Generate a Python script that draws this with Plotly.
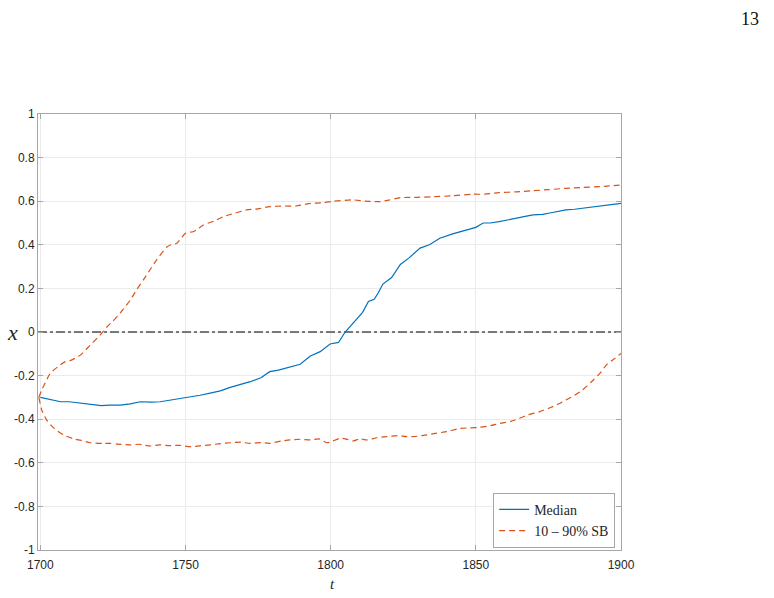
import plotly.graph_objects as go

# ---- data ----
t_med = [1700, 1703, 1707, 1710, 1714, 1717, 1721, 1724, 1727.5, 1731, 1734.4, 1738, 1741.3,
         1745, 1748.2, 1751.6, 1755, 1758.5, 1762, 1765.4, 1769, 1772.3, 1776, 1779, 1782,
         1786, 1789.5, 1793, 1796.4, 1799.8, 1802.7, 1805, 1807, 1809, 1811, 1813, 1815,
         1816.4, 1818, 1821, 1824, 1827, 1830.8, 1834, 1837.6, 1842, 1846.8, 1850, 1852.5,
         1855, 1858, 1861, 1864, 1867, 1869.7, 1873, 1875.5, 1878, 1881, 1884, 1887, 1890,
         1892.7, 1896, 1900]
x_med = [-0.30, -0.31, -0.32, -0.32, -0.327, -0.33, -0.338, -0.335, -0.335, -0.33, -0.32,
         -0.322, -0.32, -0.312, -0.305, -0.30, -0.29, -0.28, -0.27, -0.254, -0.242, -0.228,
         -0.21, -0.182, -0.175, -0.16, -0.148, -0.11, -0.09, -0.055, -0.048, 0.0, 0.03,
         0.064, 0.09, 0.14, 0.15, 0.18, 0.22, 0.25, 0.31, 0.34, 0.385, 0.40, 0.43, 0.45,
         0.468, 0.48, 0.50, 0.50, 0.506, 0.515, 0.523, 0.53, 0.537, 0.54, 0.546, 0.553,
         0.56, 0.563, 0.568, 0.573, 0.578, 0.585, 0.59]

t_up = [1699.5, 1700.5, 1701.6, 1703.4, 1706, 1708.6, 1710.5, 1713.8, 1717.2, 1720.6, 1723,
        1725, 1727.5, 1731, 1733, 1735.5, 1738, 1740, 1743.6, 1745, 1747, 1750, 1752.6, 1754,
        1756, 1760, 1763, 1767, 1771, 1775, 1779, 1784, 1788, 1793, 1797.5, 1801, 1807.7,
        1812, 1817, 1820, 1824, 1830, 1835, 1842, 1849, 1853, 1858, 1864, 1869.7, 1875,
        1881, 1887, 1892.7, 1896, 1900]
x_up = [-0.30, -0.266, -0.235, -0.19, -0.16, -0.136, -0.13, -0.106, -0.06, -0.014, 0.024,
        0.05, 0.087, 0.147, 0.19, 0.239, 0.29, 0.33, 0.39, 0.40, 0.407, 0.453, 0.46, 0.47,
        0.49, 0.51, 0.529, 0.545, 0.56, 0.565, 0.575, 0.578, 0.578, 0.59, 0.593, 0.60, 0.606,
        0.60, 0.598, 0.605, 0.616, 0.618, 0.62, 0.625, 0.632, 0.632, 0.639, 0.643, 0.648,
        0.653, 0.659, 0.663, 0.667, 0.670, 0.674]

t_lo = [1699.5, 1700.5, 1702.2, 1704.6, 1708, 1711.5, 1714, 1717.2, 1721.7, 1724, 1726.4,
        1731, 1734, 1737.8, 1741, 1744.7, 1748, 1751.6, 1755, 1758.5, 1762, 1765.4, 1769,
        1772.3, 1776, 1779, 1783, 1786, 1789.5, 1793, 1796, 1798.6, 1800, 1803, 1805, 1807.7,
        1810, 1812.4, 1816, 1819.3, 1823, 1826.2, 1830, 1833, 1836, 1840, 1844.5, 1848,
        1851.4, 1855, 1858.3, 1862, 1865, 1868, 1872, 1876, 1879, 1882, 1886, 1890.5, 1893,
        1895, 1897.5, 1900]
x_lo = [-0.30, -0.358, -0.404, -0.44, -0.472, -0.49, -0.497, -0.508, -0.511, -0.511, -0.514,
        -0.518, -0.515, -0.523, -0.518, -0.521, -0.52, -0.526, -0.522, -0.518, -0.512,
        -0.508, -0.505, -0.511, -0.507, -0.511, -0.50, -0.495, -0.492, -0.495, -0.49,
        -0.508, -0.505, -0.488, -0.49, -0.50, -0.49, -0.495, -0.485, -0.48, -0.475, -0.48,
        -0.478, -0.472, -0.465, -0.457, -0.442, -0.44, -0.437, -0.43, -0.419, -0.41,
        -0.396, -0.38, -0.365, -0.345, -0.327, -0.305, -0.274, -0.22, -0.185, -0.151,
        -0.125, -0.098]

x_ticks = [1700, 1750, 1800, 1850, 1900]
y_ticks = [-1, -0.8, -0.6, -0.4, -0.2, 0, 0.2, 0.4, 0.6, 0.8, 1]
y_ticklabels = ["-1", "-0.8", "-0.6", "-0.4", "-0.2", "0", "0.2", "0.4", "0.6", "0.8", "1"]

BLUE = "#0072BD"
ORANGE = "#D95319"

fig = go.Figure()
fig.add_trace(go.Scatter(x=[1699.2, 1900], y=[0, 0], mode="lines",
                         line=dict(color="#505050", width=1.5, dash="dashdot"),
                         showlegend=False, hoverinfo="skip"))
fig.add_trace(go.Scatter(x=t_med, y=x_med, mode="lines", name="Median",
                         line=dict(color=BLUE, width=1.2)))
fig.add_trace(go.Scatter(x=t_up, y=x_up, mode="lines", name="10 \u2013 90% SB",
                         legendgroup="sb", line=dict(color=ORANGE, width=1.2, dash="6px,4px"),
                         line_shape="spline", line_smoothing=0.6))
fig.add_trace(go.Scatter(x=t_lo, y=x_lo, mode="lines", name="10 \u2013 90% SB",
                         legendgroup="sb", showlegend=False,
                         line=dict(color=ORANGE, width=1.2, dash="6px,4px"),
                         line_shape="spline", line_smoothing=0.6))

axis_common = dict(showgrid=True, gridcolor="#ebebeb", gridwidth=1,
                   showline=True, linecolor="#a6a6a6", linewidth=1, mirror="ticks",
                   ticks="inside", ticklen=5, tickcolor="#a6a6a6",
                   tickfont=dict(family="Liberation Sans, Arial", size=12, color="#262626"),
                   zeroline=False)

fig.update_layout(
    width=774, height=598,
    margin=dict(l=38, r=153, t=114, b=48),
    paper_bgcolor="white", plot_bgcolor="white",
    xaxis=dict(range=[1699.2, 1900], tickvals=x_ticks, ticklabelstandoff=4, **axis_common),
    yaxis=dict(range=[-1, 1], tickvals=y_ticks, ticktext=y_ticklabels, **axis_common),
    legend=dict(x=0.99, y=0.005, xanchor="right", yanchor="bottom",
                bgcolor="white", bordercolor="#a6a6a6", borderwidth=1,
                font=dict(family="Liberation Serif, Times New Roman", size=14, color="#262626"),
                tracegroupgap=0, itemwidth=30),
    showlegend=True,
    annotations=[
        dict(text="<i>x</i>", xref="paper", yref="paper", x=-0.056, y=0.5,
             showarrow=False, font=dict(family="Liberation Serif", size=22, color="#262626")),
        dict(text="<i>t</i>", xref="paper", yref="paper", x=0.506, y=-0.1,
             showarrow=False, font=dict(family="Liberation Serif", size=15, color="#262626")),
        dict(text="13", xref="paper", yref="paper", x=1.24, y=1.245,
             showarrow=False, font=dict(family="Liberation Serif", size=18, color="#111111")),
    ],
)

fig.write_html("out.html")
